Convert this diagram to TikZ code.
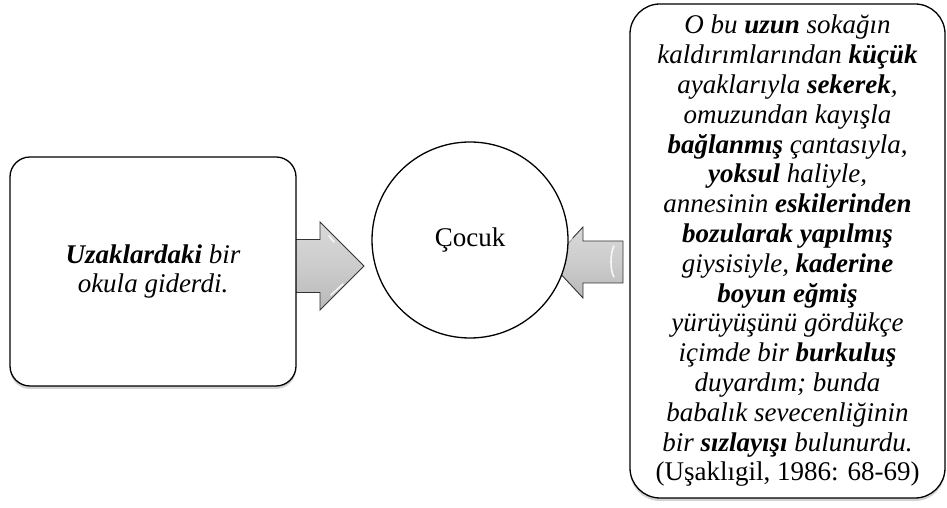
\documentclass[tikz,border=0pt]{standalone}
\usepackage{fontspec}
\setmainfont{Liberation Serif}
\usetikzlibrary{shadows}
\begin{document}
\begin{tikzpicture}[x=1pt,y=1pt,
  boxstyle/.style={draw=black,line width=1.3pt,fill=white,align=center,inner sep=0pt,
    drop shadow={opacity=0.35,shadow xshift=0pt,shadow yshift=-3pt}},
  blockarrow/.style={draw=black!80,line width=0.9pt,top color=gray!30,bottom color=gray!55,middle color=gray!40},
  shine/.style={white,line width=1.6pt,line cap=round,opacity=0.85},
  txt/.style={font=\fontsize{27}{29.8}\selectfont\itshape}]
\useasboundingbox (0,0) rectangle (947,508);
% arrows (behind boxes)
\path[blockarrow] (293,215.5) -- (320,215.5) -- (320,198) -- (364,242) -- (320,286) -- (320,268.5) -- (293,268.5) -- cycle;
\draw[shine] (329,272) -- (334,266);
\draw[shine] (331,213) -- (343,224);
\path[blockarrow] (623,225) -- (583,225) -- (583,210) -- (550,245.5) -- (583,281) -- (583,267) -- (623,267) -- cycle;
\draw[shine] (614,262) .. controls (610,255) and (610,237) .. (614,231);
\draw[shine] (566,264) -- (572,270);
% nodes
\node[boxstyle,rounded corners=20pt,minimum width=286pt,minimum height=229pt,txt] (left) at (153,236.5)
  {{\bfseries Uzaklardaki} bir\\okula giderdi.};
\node[draw=black,line width=1.3pt,fill=white,circle,minimum size=196pt,inner sep=0pt,
  font=\fontsize{27}{29.8}\selectfont] (child) at (470,268) {Çocuk};
\node[boxstyle,rounded corners=30pt,minimum width=315pt,minimum height=494pt,txt] (right) at (787.5,257)
  {O bu {\bfseries uzun} sokağın\\
   kaldırımlarından {\bfseries küçük}\\
   ayaklarıyla {\bfseries sekerek},\\
   omuzundan kayışla\\
   {\bfseries bağlanmış} çantasıyla,\\
   {\bfseries yoksul} haliyle,\\
   annesinin {\bfseries eskilerinden}\\
   {\bfseries bozularak yapılmış}\\
   giysisiyle, {\bfseries kaderine}\\
   {\bfseries boyun eğmiş}\\
   yürüyüşünü gördükçe\\
   içimde bir {\bfseries burkuluş}\\
   duyardım; bunda\\
   babalık sevecenliğinin\\
   bir {\bfseries sızlayışı} bulunurdu.\\
   {\upshape (Uşaklıgil, 1986: 68-69)}};
\end{tikzpicture}
\end{document}
